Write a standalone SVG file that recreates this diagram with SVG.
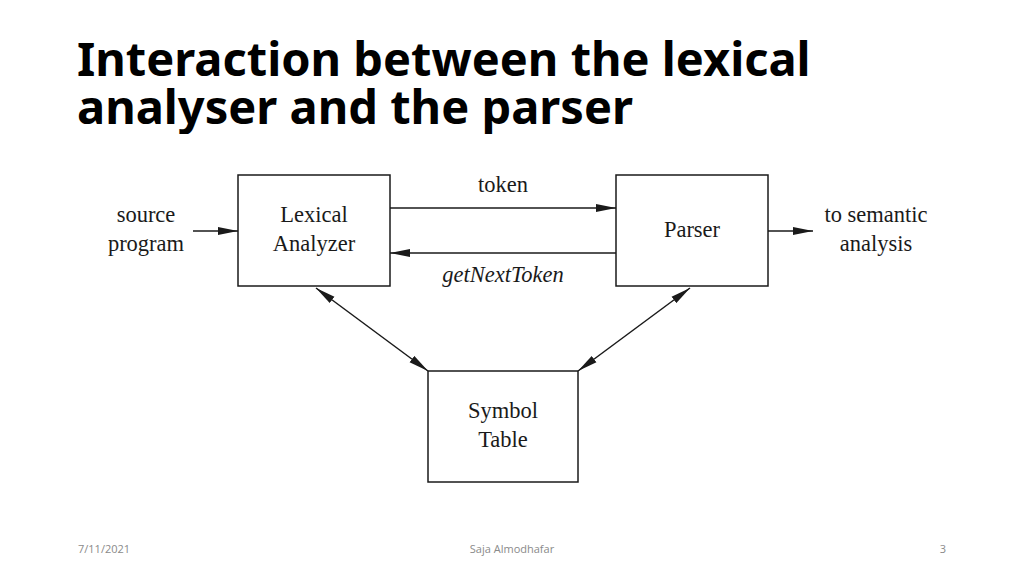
<svg xmlns="http://www.w3.org/2000/svg" width="1024" height="575" viewBox="0 0 1024 575">
<style>
.t{font-family:"Liberation Serif","Times New Roman",serif;font-size:22.5px;fill:#1a1a1a;text-anchor:middle}
.box{fill:#fff;stroke:#1a1a1a;stroke-width:1.5}
.ln{stroke:#1a1a1a;stroke-width:1.5;fill:none}
.ft{font-family:"Open Sans","Liberation Sans",sans-serif;font-size:11px;fill:#8a8a8a}
</style>
<defs>
<marker id="ah" viewBox="0 0 20 10" refX="20" refY="5" markerWidth="20" markerHeight="10" markerUnits="userSpaceOnUse" orient="auto-start-reverse">
<path d="M0,1 L20,5 L0,9 z" fill="#1a1a1a"/>
</marker>
<clipPath id="tc"><rect x="0" y="0" width="1024" height="134"/></clipPath>
</defs>
<rect width="1024" height="575" fill="#fff"/>
<g id="title" clip-path="url(#tc)" font-family="'Noto Sans','Open Sans',sans-serif" font-weight="bold" font-size="47" fill="#000">
<text x="77" y="76">Interaction between the lexical</text>
<text x="77" y="124">analyser and the parser</text>
</g>
<g id="connectors">
<line class="ln" x1="193" y1="231" x2="238" y2="231" marker-end="url(#ah)"/>
<line class="ln" x1="390" y1="208" x2="616" y2="208" marker-end="url(#ah)"/>
<line class="ln" x1="616" y1="253" x2="390" y2="253" marker-end="url(#ah)"/>
<line class="ln" x1="768" y1="231" x2="813" y2="231" marker-end="url(#ah)"/>
<line class="ln" x1="316" y1="288" x2="428" y2="371" marker-start="url(#ah)" marker-end="url(#ah)"/>
<line class="ln" x1="690" y1="288" x2="578" y2="371" marker-start="url(#ah)" marker-end="url(#ah)"/>
<text class="t" x="503" y="192">token</text>
<text class="t" x="503" y="282" font-style="italic">getNextToken</text>
</g>
<g id="source">
<text class="t" x="146" y="222">source</text>
<text class="t" x="146" y="251">program</text>
</g>
<g id="lexical">
<rect class="box" x="238" y="175" width="152" height="111"/>
<text class="t" x="314" y="222">Lexical</text>
<text class="t" x="314" y="251">Analyzer</text>
</g>
<g id="parser">
<rect class="box" x="616" y="175" width="152" height="111"/>
<text class="t" x="692" y="237">Parser</text>
</g>
<g id="semantic">
<text class="t" x="876" y="222">to semantic</text>
<text class="t" x="876" y="251">analysis</text>
</g>
<g id="symtab">
<rect class="box" x="428" y="371" width="150" height="111"/>
<text class="t" x="503" y="418">Symbol</text>
<text class="t" x="503" y="447">Table</text>
</g>
<g id="footer">
<text class="ft" x="78" y="553">7/11/2021</text>
<text class="ft" x="512" y="553" text-anchor="middle">Saja Almodhafar</text>
<text class="ft" x="946" y="553" text-anchor="end">3</text>
</g>
</svg>
